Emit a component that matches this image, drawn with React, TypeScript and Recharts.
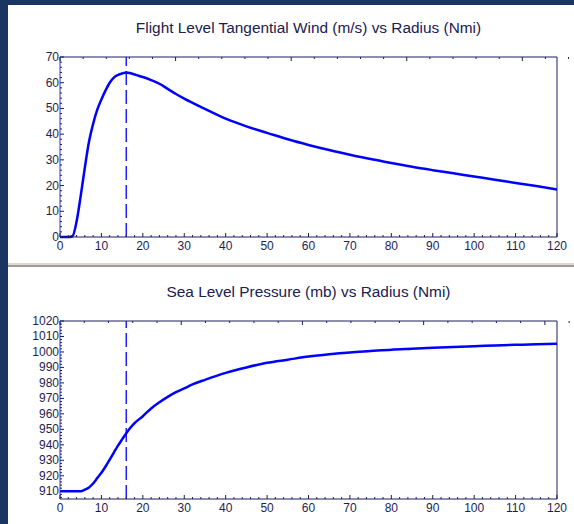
import { LineChart, Line, XAxis, YAxis, ReferenceLine } from 'recharts';

// Radius of maximum wind (Nmi), marked with a dashed line on both panels
const RMW = 16;

const windRadius = [0, 1, 2, 3, 4, 5, 6, 7, 8, 9, 10, 11, 12, 13, 14, 15, 16, 17, 18, 19, 20, 22, 24, 26, 28, 30, 35, 40, 45, 50, 55, 60, 65, 70, 75, 80, 85, 90, 95, 100, 105, 110, 115, 120];
const windSpeed = [0, 0, 0, 0.3, 6, 16, 27, 37, 44, 49.5, 53.5, 57, 60, 62, 63, 63.6, 64, 63.7, 63.2, 62.7, 62.2, 61, 59.6, 57.6, 55.6, 53.8, 49.8, 46, 43, 40.5, 38, 35.8, 33.8, 32, 30.3, 28.8, 27.3, 26, 24.8, 23.5, 22.3, 21, 19.8, 18.5];

const pressureRadius = [0, 2, 4, 5, 6, 7, 8, 9, 10, 11, 12, 13, 14, 15, 16, 17, 18, 20, 22, 24, 26, 28, 30, 32, 35, 40, 45, 50, 55, 60, 65, 70, 75, 80, 85, 90, 95, 100, 105, 110, 115, 120];
const pressure = [910, 910, 910, 910, 911, 912.5, 915, 918.5, 922, 926, 930.5, 935, 939.5, 943.5, 947.5, 951, 954, 958.5, 963.5, 967.5, 971, 974, 976.5, 979, 982, 986.5, 990, 993, 995, 997, 998.5, 999.7, 1000.6, 1001.5, 1002.1, 1002.7, 1003.2, 1003.7, 1004.2, 1004.6, 1005, 1005.3];

const radiusTicks = Array.from({ length: 61 }, (_, i) => i * 2);
const windTicks = Array.from({ length: 36 }, (_, i) => i * 2);
const pressureTicks = Array.from({ length: 58 }, (_, i) => 906 + i * 2);

const windData = windRadius.map((r, i) => ({ r, v: windSpeed[i] }));
const pressureData = pressureRadius.map((r, i) => ({ r, v: pressure[i] }));

const AXIS = '#1c1c5c';
const TEXT = '#1e1e50';
const BLUE = '#0000ff';
const FONT = '"Liberation Sans", Arial, sans-serif';

type Side = 'bottom' | 'top' | 'left' | 'right';

// Inward tick marks; multiples of 10 get a longer mark and, on bottom/left, a label
const makeTick = (side: Side, labels: boolean) => (props: any) => {
  const { x, y, payload } = props;
  const major = payload.value % 10 === 0;
  const len = major ? 4 : 2;
  let x2 = x;
  let y2 = y;
  if (side === 'bottom') y2 = y - len;
  if (side === 'top') y2 = y + len;
  if (side === 'left') x2 = x + len;
  if (side === 'right') x2 = x - len;
  return (
    <g>
      <line x1={x} y1={y} x2={x2} y2={y2} stroke={AXIS} strokeWidth={1} />
      {labels && major && side === 'bottom' && (
        <text x={x} y={y + 13} textAnchor="middle" fontSize={12} fill={TEXT} fontFamily={FONT}>
          {payload.value}
        </text>
      )}
      {labels && major && side === 'left' && (
        <text x={x - 1} y={y + 4} textAnchor="end" fontSize={12} fill={TEXT} fontFamily={FONT}>
          {payload.value}
        </text>
      )}
    </g>
  );
};

function Panel({
  data,
  domain,
  yTicks,
  height,
  top,
}: {
  data: { r: number; v: number }[];
  domain: [number, number];
  yTicks: number[];
  height: number;
  top: number;
}) {
  return (
    <LineChart width={574} height={height} data={data} margin={{ top, right: 16, bottom: 0, left: 8 }}>
      <XAxis
        dataKey="r"
        type="number"
        domain={[0, 120]}
        ticks={radiusTicks}
        interval={0}
        height={25}
        tickSize={0}
        tickMargin={0}
        tickLine={false}
        axisLine={{ stroke: AXIS }}
        tick={makeTick('bottom', true)}
      />
      <XAxis
        xAxisId="top"
        orientation="top"
        type="number"
        domain={[0, 120]}
        ticks={radiusTicks}
        interval={0}
        height={1}
        tickSize={0}
        tickMargin={0}
        tickLine={false}
        axisLine={{ stroke: AXIS }}
        tick={makeTick('top', false)}
      />
      <YAxis
        type="number"
        domain={domain}
        ticks={yTicks}
        interval={0}
        width={52}
        tickSize={0}
        tickMargin={0}
        tickLine={false}
        axisLine={{ stroke: '#3333cc' }}
        tick={makeTick('left', true)}
      />
      <YAxis
        yAxisId="right"
        orientation="right"
        type="number"
        domain={domain}
        ticks={yTicks}
        interval={0}
        width={1}
        tickSize={0}
        tickMargin={0}
        tickLine={false}
        axisLine={{ stroke: AXIS }}
        tick={makeTick('right', false)}
      />
      <ReferenceLine x={RMW} stroke="#2020ff" strokeWidth={1.5} strokeDasharray="14 5" />
      <Line
        type="monotone"
        dataKey="v"
        stroke={BLUE}
        strokeWidth={2.5}
        dot={false}
        isAnimationActive={false}
      />
    </LineChart>
  );
}

const titleStyle: React.CSSProperties = {
  position: 'absolute',
  left: 60,
  width: 497,
  textAlign: 'center',
  fontFamily: FONT,
  fontSize: 15.4,
  color: '#202050',
  lineHeight: '16px',
  whiteSpace: 'nowrap',
};

export default function App() {
  return (
    <div
      style={{
        position: 'absolute',
        left: 0,
        top: 0,
        width: 574,
        height: 524,
        background: '#ffffff',
        overflow: 'hidden',
      }}
    >
      <div style={{ position: 'absolute', left: 0, top: 0 }}>
        <Panel data={windData} domain={[0, 70]} yTicks={windTicks} height={262} top={56} />
      </div>
      <div style={{ position: 'absolute', left: 0, top: 268 }}>
        <Panel data={pressureData} domain={[905, 1020]} yTicks={pressureTicks} height={256} top={52} />
      </div>

      <div style={{ ...titleStyle, top: 20 }}>Flight Level Tangential Wind (m/s) vs Radius (Nmi)</div>
      <div style={{ ...titleStyle, top: 284 }}>Sea Level Pressure (mb) vs Radius (Nmi)</div>

      {/* window frame: dark strips and the divider between panels */}
      <div style={{ position: 'absolute', left: 0, top: 0, width: 574, height: 5, background: '#1b3563' }} />
      <div style={{ position: 'absolute', left: 0, top: 0, width: 8, height: 524, background: '#1b3563' }} />
      <div style={{ position: 'absolute', left: 8, top: 263, width: 566, height: 2, background: '#dcd8cc' }} />
      <div style={{ position: 'absolute', left: 8, top: 265, width: 566, height: 2, background: '#a09e94' }} />
    </div>
  );
}
